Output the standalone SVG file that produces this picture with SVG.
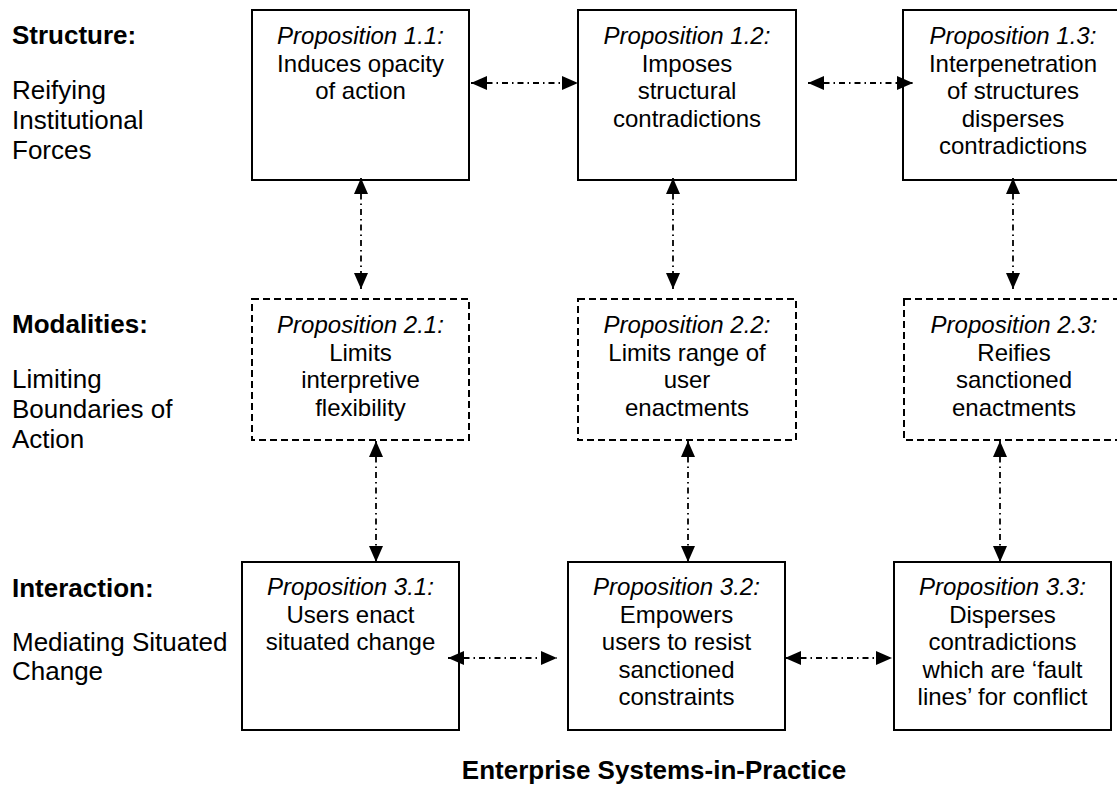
<svg xmlns="http://www.w3.org/2000/svg" width="1117" height="788" viewBox="0 0 1117 788">
<defs>
<style>
.box{fill:#fff;stroke:#000;stroke-width:2}
.dbox{fill:#fff;stroke:#000;stroke-width:2;stroke-dasharray:7 4}
.t{font-family:"Liberation Sans",Arial,sans-serif;font-size:24px;fill:#000;text-anchor:middle}
.ti{font-style:italic}
.lb{font-family:"Liberation Sans",Arial,sans-serif;font-size:26px;fill:#000}
.b{font-weight:bold}
.con{fill:none;stroke:#000;stroke-width:1.8;stroke-dasharray:6 4 1.5 4;marker-start:url(#ah);marker-end:url(#ah)}
</style>
<marker id="ah" markerUnits="userSpaceOnUse" markerWidth="16" markerHeight="14" refX="16" refY="7" orient="auto-start-reverse" viewBox="0 0 16 14">
<path d="M0,0 L16,7 L0,14 Z" fill="#000"/>
</marker>
</defs>
<rect width="1117" height="788" fill="#fff"/>

<g id="labels">
<text class="lb b" x="12" y="44">Structure:</text>
<text class="lb" x="12" y="99">Reifying</text>
<text class="lb" x="12" y="129">Institutional</text>
<text class="lb" x="12" y="159">Forces</text>
<text class="lb b" x="12" y="333">Modalities:</text>
<text class="lb" x="12" y="388">Limiting</text>
<text class="lb" x="12" y="418">Boundaries of</text>
<text class="lb" x="12" y="448">Action</text>
<text class="lb b" x="12" y="597">Interaction:</text>
<text class="lb" x="12" y="651">Mediating Situated</text>
<text class="lb" x="12" y="680">Change</text>
</g>

<g id="p11">
<rect class="box" x="252" y="10" width="217" height="170"/>
<text class="t" x="360.5"><tspan class="ti" x="360.5" y="44">Proposition 1.1:</tspan><tspan x="360.5" y="72">Induces opacity</tspan><tspan x="360.5" y="99">of action</tspan></text>
</g>
<g id="p12">
<rect class="box" x="578" y="10" width="218" height="170"/>
<text class="t"><tspan class="ti" x="687" y="44">Proposition 1.2:</tspan><tspan x="687" y="72">Imposes</tspan><tspan x="687" y="99">structural</tspan><tspan x="687" y="127">contradictions</tspan></text>
</g>
<g id="p13">
<rect class="box" x="903" y="10" width="220" height="170"/>
<text class="t"><tspan class="ti" x="1013" y="44">Proposition 1.3:</tspan><tspan x="1013" y="72">Interpenetration</tspan><tspan x="1013" y="99">of structures</tspan><tspan x="1013" y="127">disperses</tspan><tspan x="1013" y="154">contradictions</tspan></text>
</g>

<g id="p21">
<rect class="dbox" x="252" y="299" width="217" height="141"/>
<text class="t"><tspan class="ti" x="360.5" y="333">Proposition 2.1:</tspan><tspan x="360.5" y="361">Limits</tspan><tspan x="360.5" y="388">interpretive</tspan><tspan x="360.5" y="416">flexibility</tspan></text>
</g>
<g id="p22">
<rect class="dbox" x="578" y="299" width="218" height="141"/>
<text class="t"><tspan class="ti" x="687" y="333">Proposition 2.2:</tspan><tspan x="687" y="361">Limits range of</tspan><tspan x="687" y="388">user</tspan><tspan x="687" y="416">enactments</tspan></text>
</g>
<g id="p23">
<rect class="dbox" x="904" y="299" width="220" height="141"/>
<text class="t"><tspan class="ti" x="1014" y="333">Proposition 2.3:</tspan><tspan x="1014" y="361">Reifies</tspan><tspan x="1014" y="388">sanctioned</tspan><tspan x="1014" y="416">enactments</tspan></text>
</g>

<g id="p31">
<rect class="box" x="242" y="562" width="217" height="168"/>
<text class="t"><tspan class="ti" x="350.5" y="595">Proposition 3.1:</tspan><tspan x="350.5" y="623">Users enact</tspan><tspan x="350.5" y="650">situated change</tspan></text>
</g>
<g id="p32">
<rect class="box" x="568" y="562" width="217" height="168"/>
<text class="t"><tspan class="ti" x="676.5" y="595">Proposition 3.2:</tspan><tspan x="676.5" y="623">Empowers</tspan><tspan x="676.5" y="650">users to resist</tspan><tspan x="676.5" y="678">sanctioned</tspan><tspan x="676.5" y="705">constraints</tspan></text>
</g>
<g id="p33">
<rect class="box" x="894" y="562" width="217" height="168"/>
<text class="t"><tspan class="ti" x="1002.5" y="595">Proposition 3.3:</tspan><tspan x="1002.5" y="623">Disperses</tspan><tspan x="1002.5" y="650">contradictions</tspan><tspan x="1002.5" y="678">which are ‘fault</tspan><tspan x="1002.5" y="705">lines’ for conflict</tspan></text>
</g>

<g id="connectors">
<path class="con" d="M471,83 H578"/>
<path class="con" d="M808,83 H913"/>
<path class="con" d="M361,178 V289"/>
<path class="con" d="M673,178 V289"/>
<path class="con" d="M1013,178 V289"/>
<path class="con" d="M376,441 V562"/>
<path class="con" d="M688,441 V562"/>
<path class="con" d="M1000,441 V562"/>
<path class="con" d="M448,658 H557"/>
<path class="con" d="M785,658 H892"/>
</g>

<g id="title">
<text class="lb b" x="654" y="779" text-anchor="middle" font-size="28">Enterprise Systems-in-Practice</text>
</g>
</svg>
